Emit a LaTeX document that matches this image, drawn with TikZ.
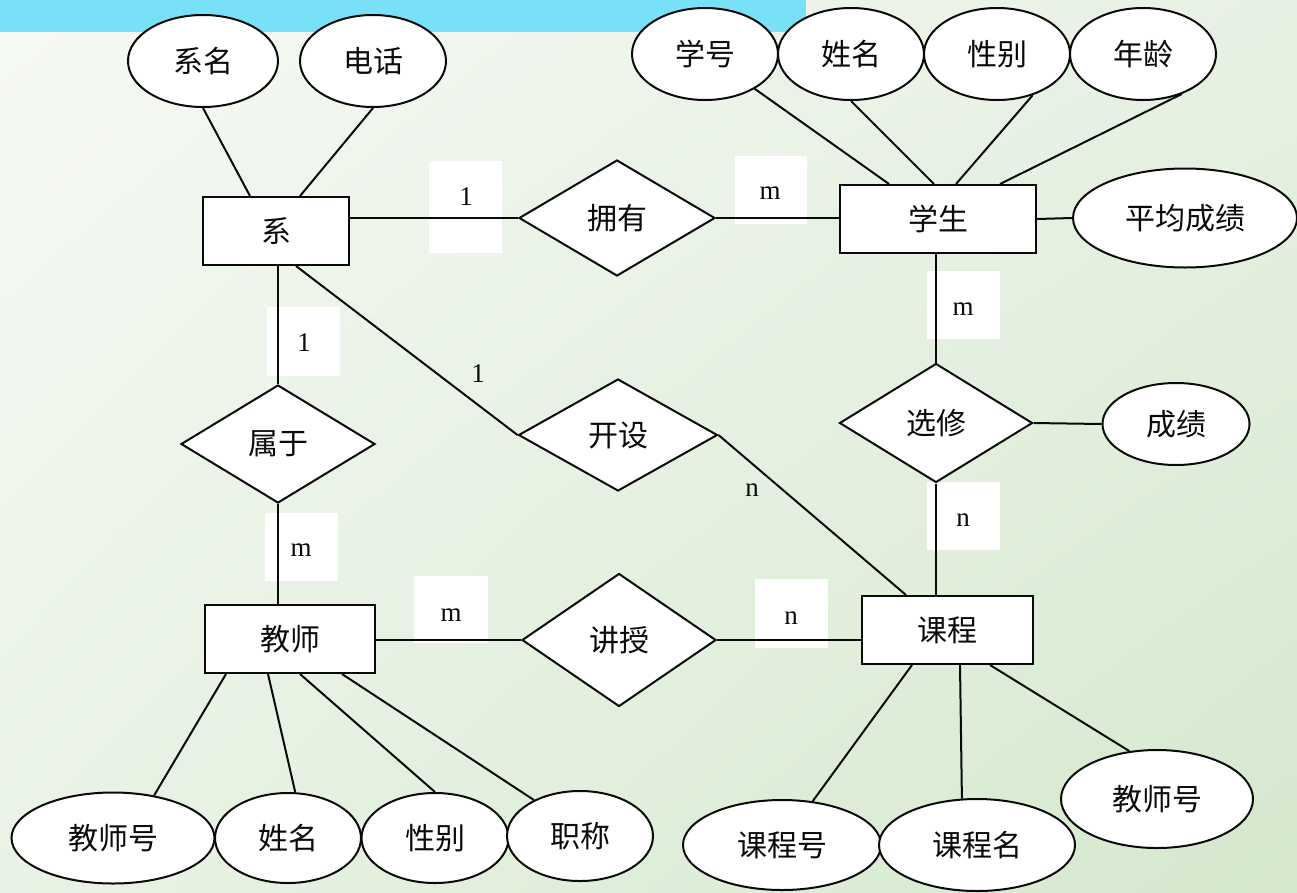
\documentclass[tikz,border=0pt]{standalone}
\usepackage{fontspec}
\newfontfamily\cjk{Noto Sans CJK SC}
\newfontfamily\lat{Liberation Serif}
\usetikzlibrary{shapes.geometric,calc,shadings}
\definecolor{bgUL}{RGB}{246,249,244}
\definecolor{bgUR}{RGB}{231,241,227}
\definecolor{bgLL}{RGB}{233,243,229}
\definecolor{bgLR}{RGB}{212,232,205}
\definecolor{cyanbar}{RGB}{121,225,247}
\definecolor{ink}{RGB}{10,10,10}
\pgfdeclarelayer{bgl}
\pgfdeclarelayer{lines}
\pgfsetlayers{bgl,lines,main}
\tikzset{
  shp/.style={draw=ink, line width=2pt, fill=white, inner sep=0pt, text=ink,
    font=\cjk\fontsize{30}{36}\selectfont},
  ent/.style={shp, rectangle},
  rel/.style={shp, diamond},
  attr/.style={shp, ellipse},
  lbl/.style={inner sep=0pt, text=ink, font=\lat\fontsize{27}{32}\selectfont},
  conn/.style={draw=ink, line width=2pt},
  whitebox/.style={fill=white}
}
\begin{document}
\begin{tikzpicture}[x=1pt,y=-1pt]
\useasboundingbox (0,0) rectangle (1297,892);
\begin{pgfonlayer}{bgl}
\shade[upper left=bgUL, upper right=bgUR, lower left=bgLL, lower right=bgLR] (0,0) rectangle (1297,892);
\fill[cyanbar] (0,0) rectangle (806,32);
% white label boxes
\fill[whitebox] (429,161) rectangle (502,253);
\fill[whitebox] (735,156) rectangle (807,224);
\fill[whitebox] (267,307) rectangle (340,376);
\fill[whitebox] (265,513) rectangle (338,581);
\fill[whitebox] (927,271) rectangle (1000,339);
\fill[whitebox] (927,482) rectangle (1000,550);
\fill[whitebox] (414,576) rectangle (488,643);
\fill[whitebox] (755,579) rectangle (828,648);
\end{pgfonlayer}

% entities
\node[ent, minimum width=146, minimum height=68] (xi) at (276,231) {系};
\node[ent, minimum width=196, minimum height=68] (xs) at (938,219) {学生};
\node[ent, minimum width=170, minimum height=68] (js) at (290,639) {教师};
\node[ent, minimum width=171, minimum height=68] (kc) at (947,630) {课程};

% relationships
\node[rel, minimum width=196, minimum height=116] (yy) at (617,218) {拥有};
\node[rel, minimum width=194, minimum height=118] (sy) at (278,444) {属于};
\node[rel, minimum width=199, minimum height=112] (ks) at (618,435) {开设};
\node[rel, minimum width=194, minimum height=133] (jsh) at (619,640) {讲授};
\node[rel, minimum width=193, minimum height=119] (xx) at (936,423) {选修};

% attributes
\node[attr, minimum width=150, minimum height=92] (a1) at (203,61) {系名};
\node[attr, minimum width=146, minimum height=92] (a2) at (373,61) {电话};
\node[attr, minimum width=146, minimum height=92] (a3) at (705,54) {学号};
\node[attr, minimum width=146, minimum height=92] (a4) at (851,54) {姓名};
\node[attr, minimum width=146, minimum height=92] (a5) at (997,54) {性别};
\node[attr, minimum width=146, minimum height=92] (a6) at (1143,54) {年龄};
\node[attr, minimum width=224, minimum height=99] (a7) at (1185,218) {平均成绩};
\node[attr, minimum width=147, minimum height=82] (a8) at (1176,424) {成绩};
\node[attr, minimum width=203, minimum height=91] (a9) at (113,838) {教师号};
\node[attr, minimum width=146, minimum height=90] (a10) at (288,838) {姓名};
\node[attr, minimum width=147, minimum height=90] (a11) at (435,838) {性别};
\node[attr, minimum width=146, minimum height=90] (a12) at (580,836) {职称};
\node[attr, minimum width=198, minimum height=90] (a13) at (782,845) {课程号};
\node[attr, minimum width=196, minimum height=92] (a14) at (977,845) {课程名};
\node[attr, minimum width=192, minimum height=98] (a15) at (1157,799) {教师号};

% cardinality labels
\node[lbl] (l1) at (466,197) {1};
\node[lbl] (l2) at (770,193) {m};
\node[lbl] (l3) at (304,343) {1};
\node[lbl] (l4) at (301,550) {m};
\node[lbl] (l5) at (963,309) {m};
\node[lbl] (l6) at (963,520) {n};
\node[lbl] (l7) at (451,615) {m};
\node[lbl] (l8) at (791,618) {n};
\node[lbl] (l9) at (478,374) {1};
\node[lbl] (l10) at (752,490) {n};

\begin{pgfonlayer}{lines}
\draw[conn] ([xshift=-26]xi.north) -- (a1.south);
\draw[conn] ([xshift=24]xi.north) -- (a2.south);
\draw[conn] (yy.west -| xi.east) -- (yy.west);
\draw[conn] (yy.east) -- (yy.east -| xs.west);
\draw[conn] (sy.north |- xi.south) -- (sy.north);
\draw[conn] ([xshift=20]xi.south) -- (ks.west);
\draw[conn] (sy.south) -- (sy.south |- js.north);
\draw[conn] (ks.east) -- ([xshift=-41]kc.north);
\draw[conn] (jsh.west -| js.east) -- (jsh.west);
\draw[conn] (jsh.east) -- (jsh.east -| kc.west);
\draw[conn] (xx.north |- xs.south) -- (xx.north);
\draw[conn] (xx.south) -- (xx.south |- kc.north);
\draw[conn] (xx.east) -- (a8.west);
\draw[conn] (xs.east) -- (a7.west);
\draw[conn] ([xshift=-49]xs.north) -- (a3.-35);
\draw[conn] ([xshift=-4]xs.north) -- (a4.south);
\draw[conn] ([xshift=18]xs.north) -- (a5.-49);
\draw[conn] ([xshift=62]xs.north) -- (a6.-46);
\draw[conn] ([xshift=-64]js.south) -- (a9.46);
\draw[conn] ([xshift=-22]js.south) -- (a10.81);
\draw[conn] ([xshift=10]js.south) -- (a11.north);
\draw[conn] ([xshift=52]js.south) -- (a12.142);
\draw[conn] ([xshift=-35]kc.south) -- (a13.55);
\draw[conn] ([xshift=13]kc.south) -- (a14.108);
\draw[conn] ([xshift=43]kc.south) -- (a15.120);
\end{pgfonlayer}
\end{tikzpicture}
\end{document}
